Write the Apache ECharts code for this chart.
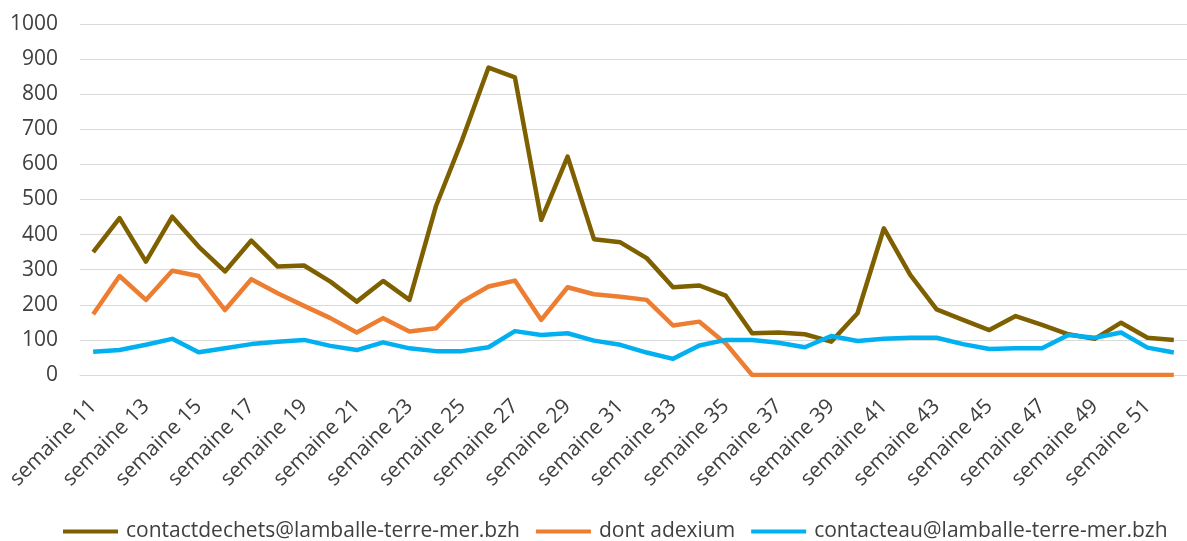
<!DOCTYPE html>
<html>
<head>
<meta charset="utf-8">
<script src="https://cdn.jsdelivr.net/npm/echarts@6/dist/echarts.min.js"></script>
<style>
html,body{margin:0;padding:0;background:#fff;}
#chart{width:1187px;height:541px;}
</style>
</head>
<body>
<div id="chart"></div>
<script>
const weeks = [];
for (let w = 11; w <= 52; w++) weeks.push('semaine ' + w);

const seriesNames = ['contactdechets@lamballe-terre-mer.bzh', 'dont adexium', 'contacteau@lamballe-terre-mer.bzh'];

const contactDechets = [350, 447, 323, 451, 366, 295, 383, 309, 312, 266, 209, 268,
  214, 480, 670, 876, 848, 442, 622, 387, 378, 333, 250, 255, 226, 119,
  121, 116, 95, 176, 418, 285, 187, 157, 128, 168, 143, 116, 103, 149, 106, 100];

const dontAdexium = [173, 282, 214, 297, 282, 185, 273, 233, 197, 162, 121, 162,
  124, 133, 209, 252, 269, 157, 250, 230, 223, 214, 141, 152, 90, 0,
  0, 0, 0, 0, 0, 0, 0, 0, 0, 0, 0, 0, 0, 0, 0, 0];

const contactEau = [66, 71, 86, 103, 65, 76, 88, 95, 100, 83, 71, 93,
  76, 68, 68, 79, 125, 114, 119, 98, 86, 64, 46, 84, 100, 100,
  92, 79, 111, 97, 103, 106, 106, 88, 74, 76, 76, 114, 106, 121, 78, 64];

const yTicks = { min: 0, max: 1000, interval: 100 };

const colors = ['#7F6000', '#ED7D31', '#00B0F0'];
const textColor = '#404040';
const fontFamily = '"Open Sans", "Noto Sans", sans-serif';

const chart = echarts.init(document.getElementById('chart'), null, { renderer: 'canvas' });
const mk = (name, data, color) => ({
  name: name,
  type: 'line',
  data: data,
  symbol: 'none',
  smooth: false,
  lineStyle: { width: 4.5, color: color, join: 'round' },
  itemStyle: { color: color }
});

chart.setOption({
  animation: false,
  backgroundColor: '#ffffff',
  grid: { left: 80, right: -13, top: 24, bottom: 166, containLabel: false },
  xAxis: {
    type: 'category',
    data: weeks,
    boundaryGap: true,
    axisLine: { show: true, lineStyle: { color: '#D9D9D9', width: 1 } },
    axisTick: { show: false },
    axisLabel: {
      interval: 1,
      rotate: 45,
      margin: 28,
      color: textColor,
      fontSize: 21,
      fontFamily: fontFamily
    },
    splitLine: { show: false }
  },
  yAxis: {
    type: 'value',
    min: yTicks.min,
    max: yTicks.max,
    interval: yTicks.interval,
    axisLine: { show: false },
    axisTick: { show: false },
    axisLabel: { margin: 22, color: textColor, fontSize: 21, fontFamily: fontFamily,
      formatter: v => String(v) },
    splitLine: { lineStyle: { color: '#D9D9D9', width: 1 } }
  },
  legend: {
    top: 521,
    left: 63,
    padding: 0,
    icon: 'rect',
    itemWidth: 55,
    itemHeight: 4,
    itemGap: 16,
    textStyle: { color: textColor, fontSize: 21, fontFamily: fontFamily, padding: [0, 0, 0, 3] },
    data: seriesNames
  },
  series: [
    mk(seriesNames[0], contactDechets, colors[0]),
    mk(seriesNames[1], dontAdexium, colors[1]),
    mk(seriesNames[2], contactEau, colors[2])
  ]
});
</script>
</body>
</html>
